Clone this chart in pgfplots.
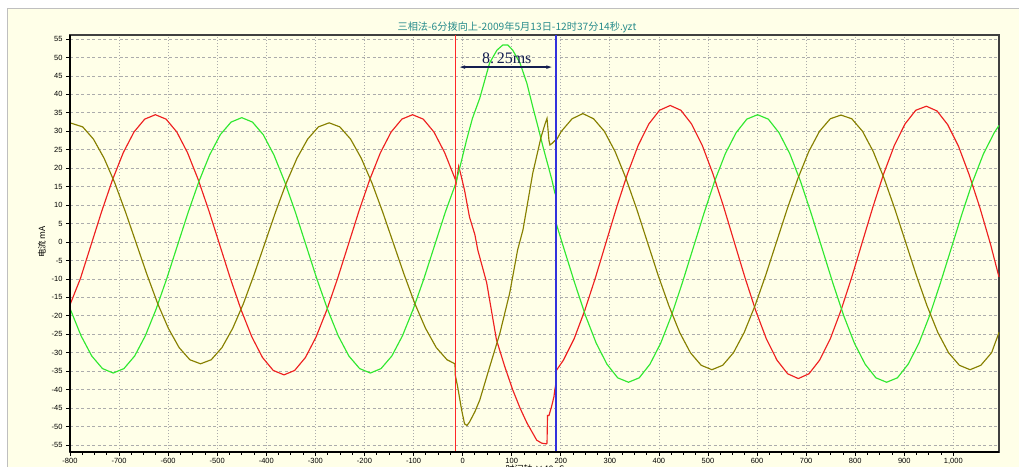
\documentclass[border=0pt]{standalone}
\usepackage{fontspec}
\setmainfont{Liberation Sans}
\newfontfamily\cjk{Noto Sans CJK SC}
\newfontfamily\serifn{Liberation Serif}
\usepackage{pgfplots}
\pgfplotsset{compat=1.18}
\usetikzlibrary{arrows.meta}
\definecolor{panel}{RGB}{255,255,232}
\definecolor{cred}{RGB}{238,32,32}
\definecolor{cgreen}{RGB}{48,232,48}
\definecolor{colive}{RGB}{135,128,0}
\definecolor{ctitle}{RGB}{40,140,140}
\definecolor{cnavy}{RGB}{20,30,80}
\definecolor{cblue}{RGB}{50,50,220}
\definecolor{cursorred}{RGB}{255,40,40}
\begin{document}
\begin{tikzpicture}
\useasboundingbox (0,0) rectangle (1019bp,467bp);
\fill[white] (0,0) rectangle (1019bp,467bp);
\fill[panel] (7bp,0) rectangle (1019bp,459bp);
\draw[black!25, line width=1bp] (7.5bp,0) -- (7.5bp,458.5bp) -- (1019bp,458.5bp);
\begin{axis}[
  at={(70bp,15bp)}, anchor=south west,
  width=929bp, height=417bp, scale only axis,
  xmin=-800, xmax=1093, ymin=-56.9, ymax=56.1,
  axis background/.style={fill=panel},
  axis line style={draw=black!75, line width=1.2bp},
  xtick={-800,-700,...,1000},
  ytick={-55,-50,...,55},
  minor x tick num=3,
  tick align=outside, tick pos=left,
  major tick length=4bp, minor tick length=2.5bp,
  tick style={black, line width=0.8bp},
  grid=major,
  x grid style={gray!65, line width=0.8bp, dash pattern=on 1.5bp off 1.5bp},
  y grid style={gray!65, line width=0.8bp, dash pattern=on 3bp off 2.5bp},
  ticklabel style={font=\fontsize{7.5bp}{9bp}\selectfont},
  xticklabel style={yshift=1.5bp},
  /pgf/number format/assume math mode=true,
  clip=false,
]
% red phase
\addplot[cred, line width=1.15bp] coordinates {
(-800,-17) (-778.8,-9.9) (-757,-0.75) (-735.2,8.4) (-713.3,16.9) (-691.5,24.2) (-669.7,29.8) (-647.8,33.3) (-626,34.5) (-604.2,33.3) (-582.3,29.8) (-560.5,24.2) (-538.7,16.9) (-516.8,8.4) (-495,-0.75) (-473.2,-9.9) (-451.3,-18.4) (-429.5,-25.7) (-407.7,-31.3) (-385.8,-34.8) (-364,-36) (-342.2,-34.8) (-320.3,-31.3) (-298.5,-25.7) (-276.7,-18.4) (-254.8,-9.9) (-233,-0.75) (-211.2,8.4) (-189.3,16.9) (-167.5,24.2) (-145.7,29.8) (-123.8,33.3) (-102,34.5) (-80.2,33.3) (-58.3,29.8) (-36.5,24.2) (-15,17) (-13,16) (-8,20.5) (-4,18.5) (4,14) (14,6.8) (25,2) (31,-2.2) (49,-11) (69,-26.5) (86,-33.8) (102,-40) (117,-45) (131,-49) (151,-53.7) (161,-54.5) (171,-54.7) (172,-54.5) (173,-47) (176,-47) (181,-44.7) (186,-42) (188,-40) (190.5,-38) (191,-34.8)
(205.5,-32) (227.3,-26.2) (249,-18.5) (270.8,-9.6) (292.5,0) (314.3,9.6) (336,18.5) (357.8,26.2) (379.5,32) (401.3,35.7) (423,37) (444.8,35.7) (466.5,32) (488.3,26.2) (510,18.5) (531.8,9.6) (553.5,0) (575.3,-9.6) (597,-18.5) (618.8,-26.2) (640.5,-32) (662.3,-35.7) (684,-37) (705.8,-35.7) (727.5,-32) (749.3,-26.2) (771,-18.5) (792.8,-9.6) (814.5,0) (836.3,9.6) (858,18.5) (879.8,26.2) (901.5,32) (923.3,35.7) (945,36.8) (966.8,35.5) (988.5,31.8) (1010.3,26) (1032,18.3) (1053.8,9.4) (1075.5,-0.5) (1093,-9.5)
};
% green phase
\addplot[cgreen, line width=1.15bp] coordinates {
(-800,-18) (-777.5,-25.4) (-755.6,-30.9) (-733.8,-34.3) (-712,-35.5) (-690.1,-34.3) (-668.3,-30.9) (-646.5,-25.4) (-624.6,-18.2) (-602.8,-9.9) (-581,-0.9) (-559.1,8.1) (-537.3,16.4) (-515.5,23.6) (-493.7,29.1) (-471.8,32.5) (-450,33.7) (-428.2,32.5) (-406.3,29.1) (-384.5,23.6) (-362.7,16.4) (-340.8,8.1) (-319,-0.9) (-297.2,-9.9) (-275.3,-18.2) (-253.5,-25.4) (-231.7,-30.9) (-209.8,-34.3) (-188,-35.5) (-166.2,-34.3) (-144.3,-30.9) (-122.5,-25.4) (-100.7,-18.2) (-78.8,-9.9) (-57,-0.9) (-35.2,8.1) (-15,15.5) (-6,20) (8,27.6) (20,33.5) (35,39) (55,48.5) (70,52) (82,53.4) (92,53.4) (102,52) (117,48.5) (131,43) (143,36.6) (155,30.5) (164,25.7) (175,20.3) (182,16.8) (188,13.3) (190.5,12.5) (191,4.9)
(206.4,-1.75) (228.4,-11.1) (250.3,-19.9) (272.2,-27.4) (294.1,-33.1) (316,-36.8) (338,-38) (359.9,-36.8) (381.8,-33.1) (403.7,-27.4) (425.6,-19.9) (447.6,-11.1) (469.5,-1.75) (491.4,7.6) (513.3,16.4) (535.2,23.9) (557.2,29.6) (579.1,33.3) (601,34.5) (622.9,33.3) (644.8,29.6) (666.8,23.9) (688.7,16.4) (710.6,7.6) (732.5,-1.75) (754.4,-11.1) (776.4,-19.9) (798.3,-27.4) (820.2,-33.1) (842.1,-36.8) (864,-38) (886,-36.8) (907.9,-33.1) (929.8,-27.4) (951.7,-19.9) (973.6,-11.1) (995.6,-1.75) (1017.5,7.6) (1039.4,16.4) (1061.3,23.9) (1083.2,29.6) (1093,31.6)
};
% olive phase
\addplot[colive, line width=1.15bp] coordinates {
(-800,32.3) (-774.1,31.2) (-752.3,27.9) (-730.5,22.7) (-708.7,16) (-686.8,8.1) (-665,-0.35) (-643.2,-8.8) (-621.3,-16.7) (-599.5,-23.4) (-577.7,-28.6) (-555.8,-31.9) (-534,-33) (-512.2,-31.9) (-490.3,-28.6) (-468.5,-23.4) (-446.7,-16.7) (-424.8,-8.8) (-403,-0.35) (-381.2,8.1) (-359.3,16) (-337.5,22.7) (-315.7,27.9) (-293.8,31.2) (-272,32.3) (-250.2,31.2) (-228.3,27.9) (-206.5,22.7) (-184.7,16) (-162.8,8.1) (-141,-0.35) (-119.2,-8.8) (-97.3,-16.7) (-75.5,-23.4) (-53.7,-28.6) (-31.8,-31.9) (-15.5,-33) (-15,-36) (-10,-39.3) (-2,-45.5) (4,-49.3) (9,-49.7) (14,-48.8) (25,-46) (35,-42.8) (55,-33.9) (76,-24.7) (96,-13.8) (112,-2.2) (123,3.3) (143,18.7) (160,28.5) (168,32) (172,33.5) (176,27.5) (178,26.3) (183,26.8) (188,27.5) (191,27.6)
(201.2,30) (223.1,33.4) (245,34.8) (266.9,33.4) (288.8,30) (310.8,24.5) (332.7,17.3) (354.6,9) (376.5,0) (398.4,-9) (420.4,-17.3) (442.3,-24.5) (464.2,-30) (486.1,-33.4) (508,-34.6) (530,-33.4) (551.9,-30) (573.8,-24.5) (595.7,-17.3) (617.6,-9) (639.6,0) (661.5,9) (683.4,17.3) (705.3,24.5) (727.2,30) (749.2,33.4) (771,34.4) (793,33.4) (814.9,30) (836.8,24.5) (858.7,17.3) (880.6,9) (902.6,0) (924.5,-9) (946.4,-17.3) (968.3,-24.5) (990.2,-30) (1012.2,-33.4) (1034,-34.6) (1056,-33.4) (1077.9,-30) (1093,-24.5)
};
% cursors
\draw[cursorred, line width=1.3bp] (axis cs:-15,-56.9) -- (axis cs:-15,56.1);
\draw[cblue, line width=1.8bp] (axis cs:191,-56.9) -- (axis cs:191,56.1);
\draw[cnavy, line width=1.6bp, {Latex[length=9bp,width=3.5bp]}-{Latex[length=9bp,width=3.5bp]}] (axis cs:-13,47.4) -- (axis cs:189,47.4);
\node[font=\serifn\fontsize{16bp}{18bp}\selectfont, text=cnavy, anchor=base] at (axis cs:90,48.3) {8.\,25ms};
% heavy left and bottom axis lines
\draw[black, line width=2.6bp] (rel axis cs:0,0) -- (rel axis cs:0,1);
\draw[black, line width=2.6bp] (rel axis cs:0,0) -- (rel axis cs:1,0);
\end{axis}
\node[text=ctitle, font=\cjk\fontsize{10.2bp}{12bp}\selectfont] at (517bp,440bp) {三相法-6分拨向上-2009年5月13日-12时37分14秒.yzt};
\node[rotate=90, font=\cjk\fontsize{8.5bp}{10bp}\selectfont] at (42bp,225bp) {电流 mA};
\node[anchor=north, font=\cjk\fontsize{9bp}{10bp}\selectfont] at (535bp,5.5bp) {时间轴 ×40uS};
\end{tikzpicture}
\end{document}
